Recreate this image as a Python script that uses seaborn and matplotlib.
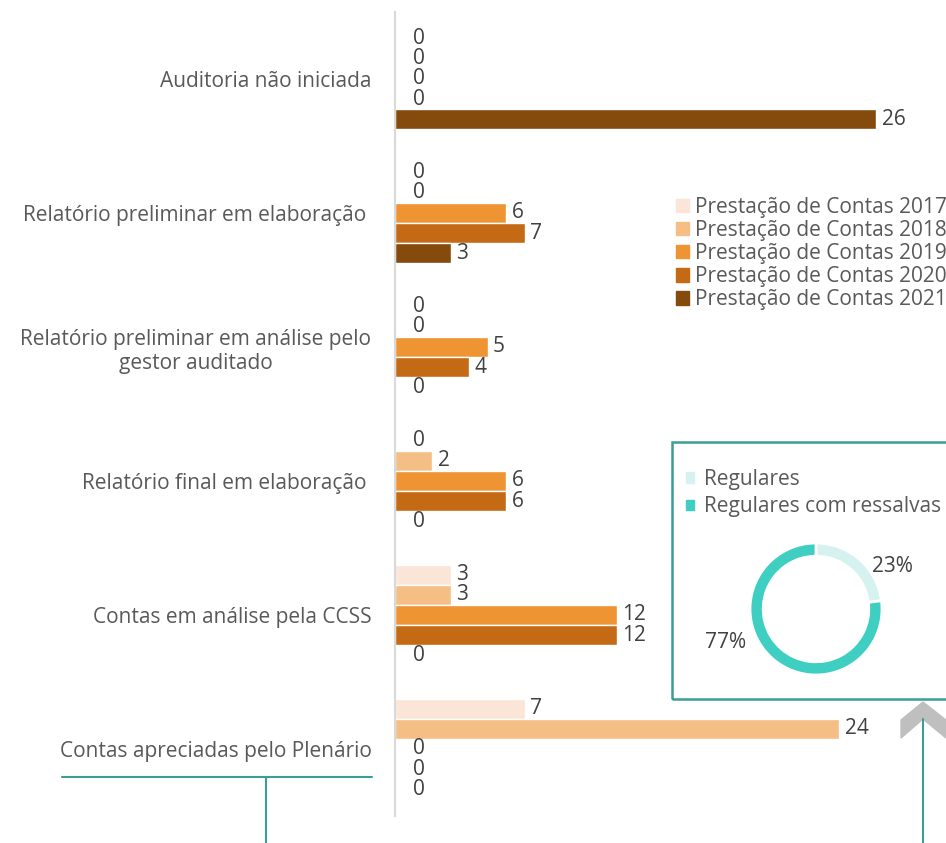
import numpy as np
import pandas as pd
import seaborn as sns
import matplotlib.pyplot as plt
from matplotlib.patches import Rectangle, Polygon
from matplotlib.lines import Line2D

# categorias (de cima para baixo)
categorias = [
    "Auditoria não iniciada",
    "Relatório preliminar em elaboração ",
    "Relatório preliminar em análise pelo\ngestor auditado",
    "Relatório final em elaboração ",
    "Contas em análise pela CCSS",
    "Contas apreciadas pelo Plenário",
]
series = ["Prestação de Contas 2017", "Prestação de Contas 2018",
          "Prestação de Contas 2019", "Prestação de Contas 2020",
          "Prestação de Contas 2021"]
pc_2017 = [0, 0, 0, 0, 3, 7]
pc_2018 = [0, 0, 0, 2, 3, 24]
pc_2019 = [0, 6, 5, 6, 12, 0]
pc_2020 = [0, 7, 4, 6, 12, 0]
pc_2021 = [26, 3, 0, 0, 0, 0]
cores = ["#FBE5D6", "#F4BE84", "#EF9433", "#C56A14", "#844B0C"]

# rosca
rosca_labels = ["Regulares", "Regulares com ressalvas"]
rosca_valores = [23, 77]
rosca_cores = ["#D6F2F0", "#3ECFC2"]

valores = [pc_2017, pc_2018, pc_2019, pc_2020, pc_2021]
df = pd.DataFrame({
    "categoria": categorias * 5,
    "serie": [s for s in series for _ in categorias],
    "valor": [v for vals in valores for v in vals],
})

sns.set_style("white")
plt.rcParams['font.family'] = ['Open Sans', 'DejaVu Sans']
FS = 15

W, H = 946, 843
fig = plt.figure(figsize=(W / 100, H / 100), dpi=100)
ax = fig.add_axes([395 / W, 1 - 816 / H, 1 - 395 / W, (816 - 12) / H])

sns.barplot(data=df, x="valor", y="categoria", hue="serie", order=categorias,
            hue_order=series, palette=cores, orient="h", width=0.75, gap=0,
            saturation=1, ax=ax, legend=False)

# rótulos: zeros ficam um pouco mais afastados do eixo
for cont, vals in zip(ax.containers, valores):
    ax.bar_label(cont, labels=[str(v) if v else "" for v in vals],
                 padding=4, fontsize=FS, color="#404040")
    ax.bar_label(cont, labels=["0" if v == 0 else "" for v in vals],
                 padding=13, fontsize=FS, color="#404040")

ax.set_xlim(0, (W - 395) / 18.5)
ax.set_ylim(5.5, -0.5)
ax.set_xlabel("")
ax.set_ylabel("")
ax.set_xticks([])
ax.tick_params(axis="y", length=0, pad=17, labelsize=FS, labelcolor="#595959")
for lab in ax.get_yticklabels():
    lab.set_multialignment("center")
for s in ["top", "right", "bottom"]:
    ax.spines[s].set_visible(False)
ax.spines["left"].set_color("#D9D9D9")
ax.spines["left"].set_linewidth(1.5)

# legenda das barras
handles = [Rectangle((0, 0), 1, 1, color=c) for c in cores]
fig.legend(handles, series, loc="upper left", bbox_to_anchor=(676 / W, 1 - 197 / H),
           frameon=False, fontsize=FS, handlelength=0.6, handleheight=0.6,
           handletextpad=0.3, labelspacing=0.1, labelcolor="#595959",
           borderaxespad=0, borderpad=0)

teal = "#3A9E96"
# caixa da rosca
fig.add_artist(Rectangle((672 / W, 1 - 699 / H), (W - 672 + 10) / W, (699 - 442) / H,
                         transform=fig.transFigure, fill=False, edgecolor=teal, lw=1.8))

ax2 = fig.add_axes([(816 - 66) / W, 1 - (609 + 66) / H, 132 / W, 132 / H])
ax2.pie(rosca_valores, colors=rosca_cores, startangle=90, counterclock=False,
        wedgeprops=dict(width=0.2, edgecolor="white", linewidth=2))
ax2.set_xlim(-1, 1)
ax2.set_ylim(-1, 1)
ax2.set_aspect("equal")
fig.text(892 / W, 1 - 567 / H, f"{rosca_valores[0]}%", fontsize=FS, color="#404040",
         ha="center", va="center")
fig.text(726 / W, 1 - 643 / H, f"{rosca_valores[1]}%", fontsize=FS, color="#404040",
         ha="center", va="center")

h2 = [Rectangle((0, 0), 1, 1, color=c) for c in rosca_cores]
fig.legend(h2, rosca_labels, loc="upper left", bbox_to_anchor=(686 / W, 1 - 469 / H),
           frameon=False, fontsize=FS, handlelength=0.4, handleheight=0.4,
           handletextpad=0.45, labelspacing=0.3, labelcolor="#595959",
           borderaxespad=0, borderpad=0)

# linhas decorativas
fig.add_artist(Line2D([62 / W, 372 / W], [1 - 777 / H] * 2, color=teal, lw=1.5))
fig.add_artist(Line2D([266 / W] * 2, [1 - 777 / H, 0], color=teal, lw=1.5))
seta = [(901, 720), (923, 702), (946, 720), (946, 738), (923, 719), (901, 738)]
fig.add_artist(Polygon([(x / W, 1 - y / H) for x, y in seta], closed=True,
                       color="#BFBFBF", transform=fig.transFigure))
fig.add_artist(Line2D([923 / W] * 2, [1 - 719 / H, 0], color=teal, lw=1.5))

fig.savefig("out.png", dpi=100)
